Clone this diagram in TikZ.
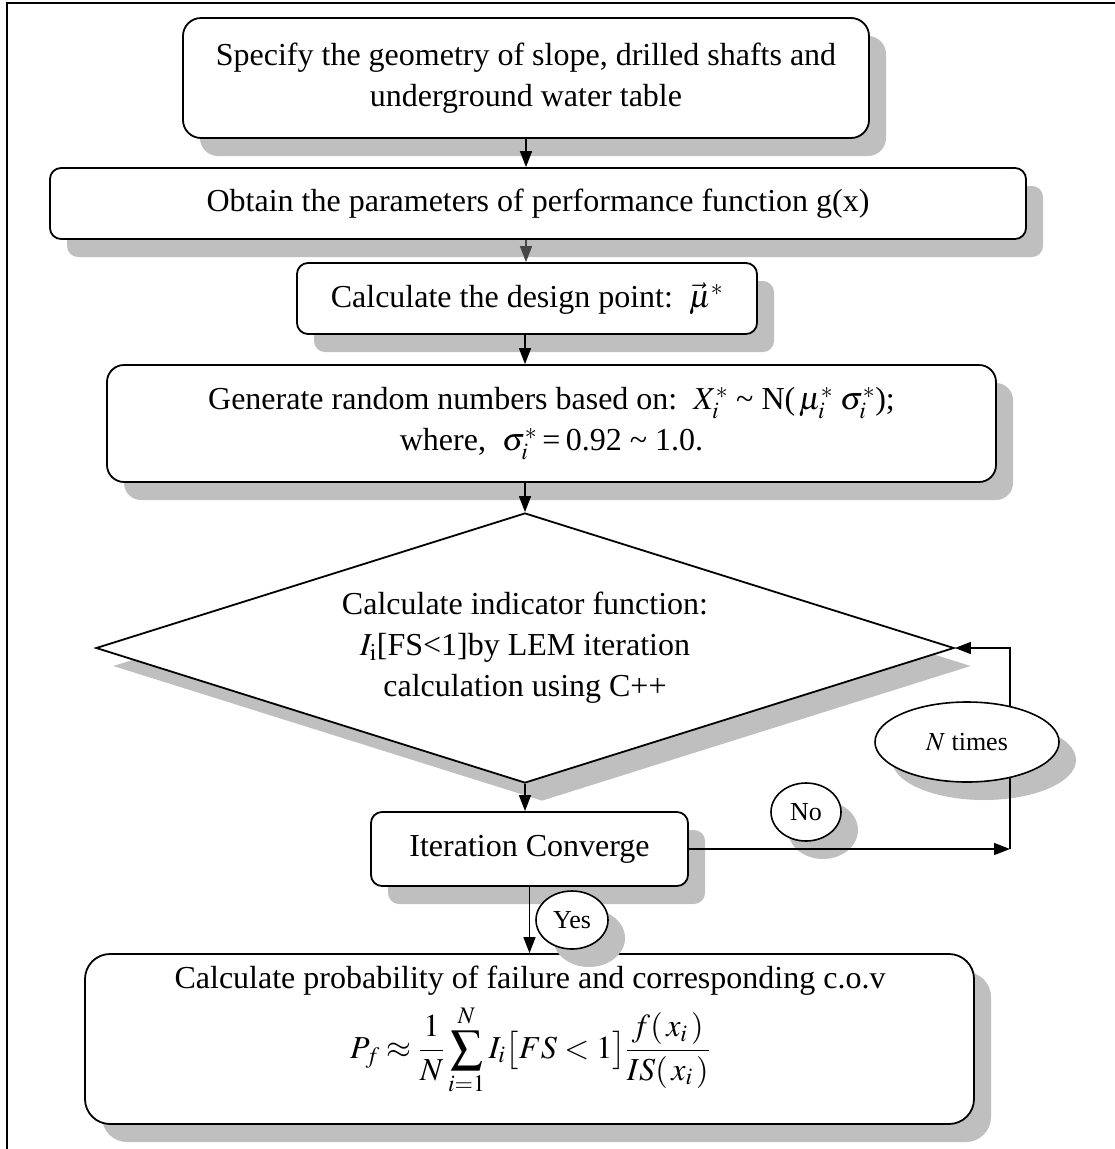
\documentclass[tikz,border=0pt]{standalone}
\usepackage{mathptmx}
\usepackage[no-math]{fontspec}
\setmainfont{Liberation Serif}
\usetikzlibrary{shapes.geometric,shadows,arrows.meta}
\newcommand\bodysize{\fontsize{32}{41}\selectfont}
\newcommand\smallsize{\fontsize{26}{30}\selectfont}
\begin{document}
\begin{tikzpicture}[x=1pt,y=-1pt,
  shadowc/.style={fill=black!25},
  myshadow/.style={drop shadow={shadow xshift=17pt,shadow yshift=-18pt,fill=black!25,opacity=1}},
  box/.style={draw,line width=1.8pt,fill=white,align=center,font=\bodysize,inner sep=0pt,myshadow},
  ell/.style={draw,ellipse,line width=1.6pt,fill=white,inner sep=0pt,font=\smallsize},
  arr/.style={line width=1.5pt,-{Triangle[length=16pt,width=12pt]}},
  txt/.style={align=center,font=\bodysize,inner sep=0pt}]
\useasboundingbox (0,0) rectangle (1115,1149);
% frame
\draw[line width=2.5pt] (7,1149) -- (7,3) -- (1115,3);
% boxes
\node[box,minimum width=686pt,minimum height=120pt,rounded corners=18pt] (b1) at (526,78)
  {Specify the geometry of slope, drilled shafts and\\underground water table};
\node[box,minimum width=976pt,minimum height=71pt,rounded corners=11pt] (b2) at (538,203.5)
  {Obtain the parameters of performance function g(x)};
\node[box,minimum width=460pt,minimum height=71pt,rounded corners=11pt] (b3) at (527,298.5)
  {Calculate the design point:\ \ $\vec{\mu}^{*}$};
\node[box,minimum width=889pt,minimum height=117pt,rounded corners=17pt] (b4) at (551.5,423.5)
  {Generate random numbers based on:\ \ $X_i^{*}$ \textasciitilde\ N($\,\mu_i^{*}\;\sigma_i^{*}$);\\
   where,\ \ $\sigma_i^{*}$\,=\,0.92 \textasciitilde\ 1.0.};
\node[box,shape=diamond,shape aspect=3.18,minimum width=858pt,minimum height=270pt] (dia) at (525,648)
  {Calculate indicator function:\\$I_{\mathrm{i}}$[FS<1]by LEM iteration\\calculation using C++};
\node[box,minimum width=317pt,minimum height=74pt,rounded corners=11pt] (iter) at (529.5,849)
  {Iteration Converge};
\node[box,minimum width=889pt,minimum height=170pt,rounded corners=25pt] (fin) at (529.5,1039) {};
\node[txt] (fint) at (530,981) {Calculate probability of failure and corresponding c.o.v};
\node[txt] (form) at (530,1050)
  {$\displaystyle P_f\approx\frac{1}{N}\sum_{i=1}^{N}I_i\bigl[FS<1\bigr]\frac{f(\,x_i\,)}{IS(\,x_i\,)}$};
% ellipse shadows
\fill[shadowc] (984,760) ellipse [x radius=92pt,y radius=40pt];
\fill[shadowc] (823,830) ellipse [x radius=35pt,y radius=29pt];
\fill[shadowc] (589,938) ellipse [x radius=36pt,y radius=29pt];
% connectors
\coordinate (loopT) at (1010,648);
\coordinate (loopB) at (1010,849);
\draw[arr] (b1.south) -- (b2.north -| b1.south);
\draw[arr,black!72] (b2.south -| b1.south) -- (b3.north -| b1.south);
\draw[arr] (b3.south -| dia.north) -- (b4.north -| dia.north);
\draw[arr] (b4.south -| dia.north) -- (dia.north);
\draw[arr] (dia.south) -- (iter.north -| dia.south);
\draw[arr] (iter.south) -- (fin.north -| iter.south);
\draw[arr] (iter.east) -- (iter.east -| loopB);
\draw[arr] (loopB) -- (loopT) -- (dia.east);
% ellipses
\node[ell,minimum width=184pt,minimum height=80pt] (nt) at (967,742) {$N$ times};
\node[ell,minimum width=70pt,minimum height=58pt] (no) at (806,812) {No};
\node[ell,minimum width=72pt,minimum height=58pt] (yes) at (572,920) {Yes};
\end{tikzpicture}
\end{document}
